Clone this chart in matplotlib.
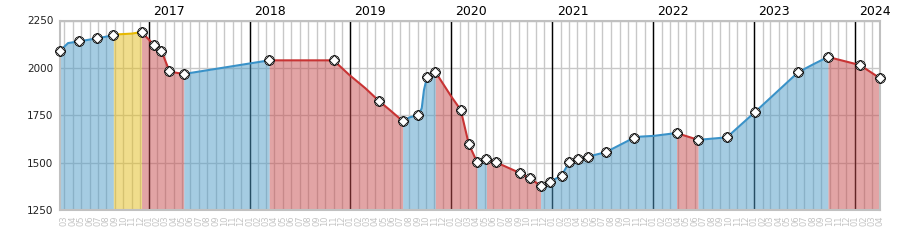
import matplotlib
matplotlib.use('Agg')
import matplotlib.pyplot as plt
import matplotlib.dates as mdates
import pandas as pd

# values, markers flagged with 1
dates = ['2016-02-16', '2016-03-15', '2016-04-24', '2016-06-28', '2016-08-26',
         '2016-09-12', '2016-11-01', '2016-12-06', '2017-01-21', '2017-02-16',
         '2017-03-16', '2017-04-05', '2017-05-08', '2018-03-13', '2018-11-01',
         '2018-12-28', '2019-02-24', '2019-04-14', '2019-05-23', '2019-07-09',
         '2019-08-04', '2019-09-04', '2019-09-16', '2019-09-24', '2019-10-05',
         '2019-11-04', '2020-01-01', '2020-02-04', '2020-03-04', '2020-04-03',
         '2020-05-07', '2020-06-09', '2020-09-04', '2020-10-10', '2020-11-19',
         '2020-12-22', '2021-02-03', '2021-03-02', '2021-04-04', '2021-05-08',
         '2021-07-13', '2021-10-23', '2021-11-16', '2022-01-03', '2022-03-26',
         '2022-06-12', '2022-09-24', '2023-01-03', '2023-06-09', '2023-08-04',
         '2023-09-25', '2024-01-19', '2024-04-01']
values = [2091, 2131, 2140, 2156, 2172,
          2177, 2181, 2189, 2120, 2090,
          1986, 1976, 1968, 2040, 2040,
          1963, 1893, 1826, 1779, 1720,
          1740, 1751, 1788, 1884, 1951,
          1980, 1849, 1779, 1600, 1504,
          1519, 1504, 1447, 1420, 1379,
          1400, 1432, 1502, 1520, 1532,
          1556, 1632, 1638, 1642, 1657,
          1621, 1634, 1766, 1977, 2020,
          2058, 2015, 1945]
marked = [1, 0, 1, 1, 1,
          0, 0, 1, 1, 1,
          1, 0, 1, 1, 1,
          0, 0, 1, 0, 1,
          0, 1, 0, 0, 1,
          1, 0, 1, 1, 1,
          1, 1, 1, 1, 1,
          1, 1, 1, 1, 1,
          1, 1, 0, 0, 1,
          1, 1, 1, 1, 0,
          1, 1, 1]
# trend of the segment that starts at each point
trend = ['up', 'up', 'up', 'up', 'flat',
         'flat', 'flat', 'down', 'down', 'down',
         'down', 'down', 'up', 'down', 'down',
         'down', 'down', 'down', 'down', 'up',
         'up', 'up', 'up', 'up', 'up',
         'down', 'down', 'down', 'down', 'up',
         'down', 'down', 'down', 'down', 'up',
         'up', 'up', 'up', 'up', 'up',
         'up', 'up', 'up', 'up', 'down',
         'up', 'up', 'up', 'up', 'up',
         'down', 'down']
years = [2017, 2018, 2019, 2020, 2021, 2022, 2023, 2024]

fill_col = {'up': '#4d9bc7', 'down': '#c74b4d', 'flat': '#e3bd1b'}
line_col = {'up': '#3a92c8', 'down': '#c83434', 'flat': '#e6b800'}

x = pd.to_datetime(dates)

fig = plt.figure(figsize=(9, 2.5), dpi=100)
ax = fig.add_axes([0.067, 0.159, 0.911, 0.759])

ax.set_xlim(x[0], x[-1])
ax.set_ylim(1250, 2250)
ax.set_yticks(range(1250, 2251, 250))
ax.xaxis.set_major_locator(mdates.MonthLocator())
ax.xaxis.set_major_formatter(mdates.DateFormatter('%m'))
ax.tick_params(axis='x', length=0, labelrotation=90, labelsize=6,
               labelcolor='#c4c4c4', pad=4)
ax.tick_params(axis='y', length=0, labelsize=7.5, pad=5, labelcolor='#222222')
ax.set_axisbelow(True)
ax.grid(True, color='#c8c8c8', linewidth=1)
for s in ax.spines.values():
    s.set_color('#c0c0c0')
    s.set_linewidth(1.5)

for y in years:
    d = pd.Timestamp(f'{y}-01-01')
    ax.axvline(d, color='black', lw=1, zorder=1)
    ax.annotate(str(y), xy=(d, 1), xycoords=('data', 'axes fraction'),
                xytext=(3, 2), textcoords='offset points', ha='left',
                va='bottom', fontsize=9, annotation_clip=False)

# fill + line, grouped by trend
n = len(x)
i = 0
while i < n - 1:
    j = i
    while j < n - 1 and trend[j] == trend[i]:
        j += 1
    sx = x[i:j + 1]
    sy = values[i:j + 1]
    ax.fill_between(sx, 1250, sy, color=fill_col[trend[i]], alpha=0.5,
                    lw=0, zorder=2)
    ax.plot(sx, sy, color=line_col[trend[i]], lw=1.5, zorder=3,
            solid_capstyle='round')
    i = j

mx = [x[k] for k in range(n) if marked[k]]
my = [values[k] for k in range(n) if marked[k]]
ax.plot(mx, my, 'o', ms=7, mfc='white', mec='black', mew=0.6, zorder=4,
        clip_on=False)
ax.plot(mx, my, 'D', ms=5.6, mfc='none', mec='black', mew=0.6, zorder=5,
        clip_on=False)

fig.savefig('out.png', dpi=100)
